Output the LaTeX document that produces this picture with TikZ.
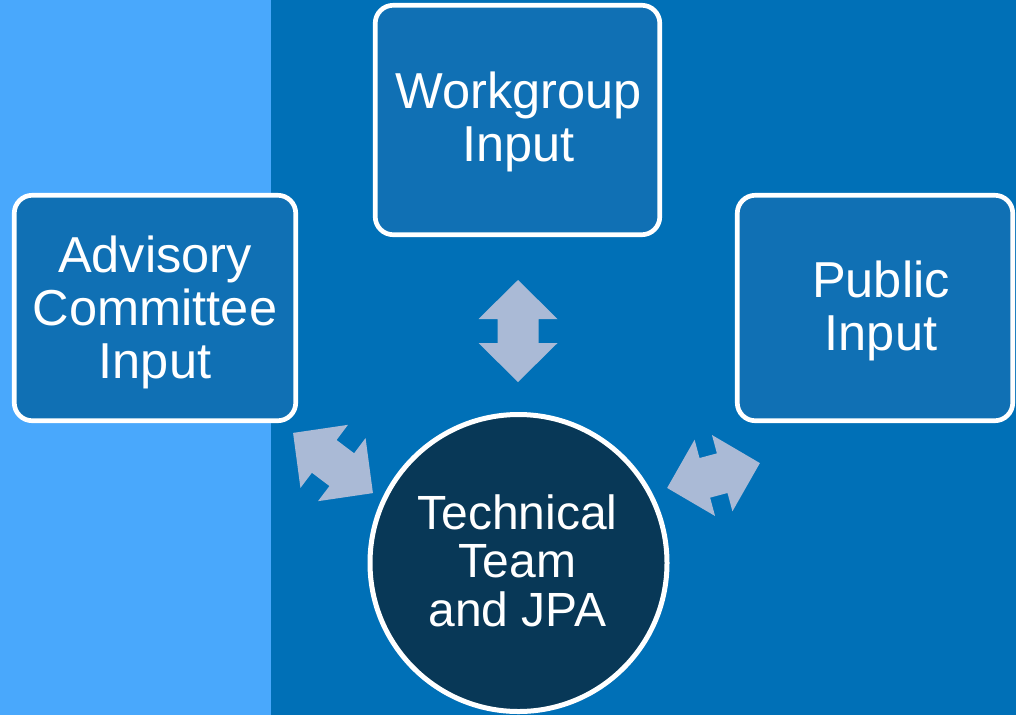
\documentclass[tikz,border=0pt]{standalone}
\usepackage{fontspec}
\setmainfont{Liberation Sans}
\begin{document}
\begin{tikzpicture}[x=0.75pt,y=-0.75pt,
  panel/.style={fill=panelblue},
  inputbox/.style={draw=white,line width=3.5pt,fill=boxblue,rounded corners=13.5pt,
    minimum height=169.1pt,inner sep=0pt},
  hub/.style={circle,draw=white,line width=3.75pt,fill=hubnavy,
    minimum size=222.75pt,inner sep=0pt},
  boxtext/.style={anchor=north,inner sep=0pt,align=center,text=white,
    font=\fontsize{37.9}{39.6}\selectfont},
  hubtext/.style={anchor=north,inner sep=0pt,align=center,text=white,
    font=\fontsize{36}{36.6}\selectfont},
  pics/dblarrow/.style={code={
    \fill[arrowfill] (-#1,0) -- (-#1+39,39.5) -- (-#1+39,20.5) -- (#1-39,20.5)
      -- (#1-39,39.5) -- (#1,0) -- (#1-39,-39.5) -- (#1-39,-20.5)
      -- (-#1+39,-20.5) -- (-#1+39,-39.5) -- cycle;}}]
\definecolor{panelblue}{RGB}{73,168,252}
\definecolor{bgblue}{RGB}{0,112,183}
\definecolor{boxblue}{RGB}{16,112,180}
\definecolor{hubnavy}{RGB}{8,56,87}
\definecolor{arrowfill}{RGB}{170,186,214}

\useasboundingbox (0,0) rectangle (1016,715);
\clip (0,0) rectangle (1016,715);

% background: dark field with the light strip on the left
\fill[bgblue] (0,0) rectangle (1016,715);
\fill[panelblue] (0,0) rectangle (271,715);

% input boxes
\node[inputbox,minimum width=213.4pt,minimum height=172.1pt] (work) at (517.5,120) {};
\node[inputbox,minimum width=211.1pt] (adv) at (155,308) {};
\node[inputbox,minimum width=206.6pt] (pub) at (875,308) {};

% central hub
\node[hub] (hub) at (518.5,563) {};

% two-way block arrows between the hub and each input
\pic[rotate=90] (arrwork) at (518,331) {dblarrow=51};
\pic[rotate=-37] (arradv) at (333,463) {dblarrow=50};
\pic[rotate=15] (arrpub) at (713.5,475.5) {dblarrow=48};

% labels
\node[boxtext] (worktxt) at (518.5,72) {Workgroup\\Input};
\node[boxtext] (advtxt) at (155,236) {Advisory\\Committee\\Input};
\node[boxtext] (pubtxt) at (881,261) {Public\\Input};
\node[hubtext] (hubtxt) at (517.5,494) {Technical\\Team\\and JPA};
\end{tikzpicture}
\end{document}
